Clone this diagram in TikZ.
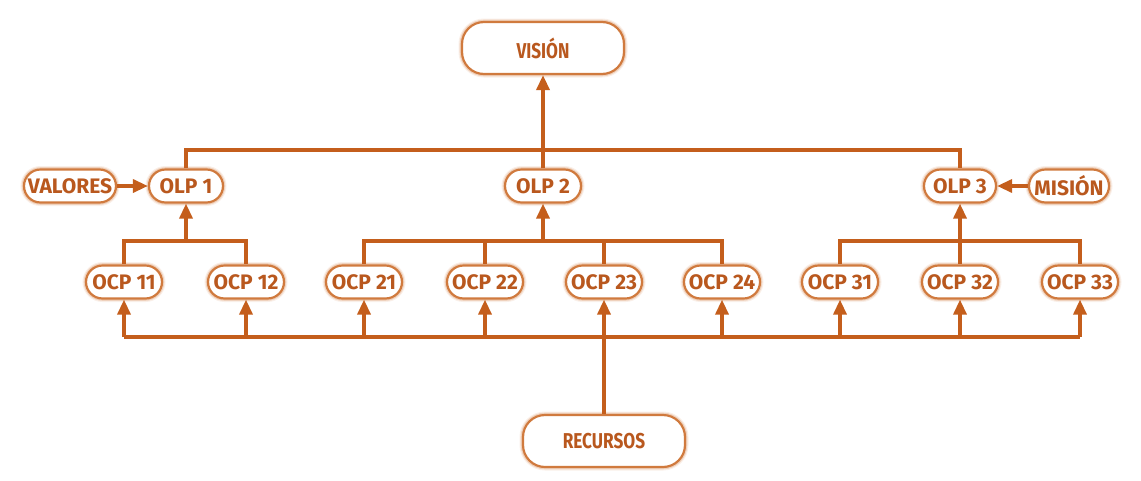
\documentclass[tikz,border=0pt]{standalone}
\usepackage{fontspec}
\setmainfont{Fira Sans}
\newfontfamily\narrowfont[FakeStretch=0.8]{Fira Sans}
\usetikzlibrary{arrows.meta,shapes.misc}

\definecolor{linec}{RGB}{196,94,28}
\definecolor{framec}{RGB}{208,122,62}
\definecolor{textc}{RGB}{185,88,30}

\tikzset{
  glow/.style={
    preaction={draw=framec,line width=7pt,opacity=0.12},
    preaction={draw=framec,line width=4.6pt,opacity=0.26},
    draw=framec,line width=2.2pt,fill=white,text=textc},
  pill/.style={glow,rounded rectangle,minimum height=33pt,inner xsep=5pt,inner ysep=0pt,
    font=\fontsize{21}{21}\selectfont\bfseries},
  bigbox/.style={glow,rectangle,rounded corners=22pt,minimum width=162pt,minimum height=52pt,
    font=\bfseries\narrowfont\fontsize{21.5}{21.5}\selectfont},
  wire/.style={draw=linec,line width=3.4pt},
  arr/.style={wire,-{Triangle[length=15pt,width=13pt]}}
}

\begin{document}
\begin{tikzpicture}[x=1pt,y=-1pt]
\useasboundingbox (0,0) rectangle (1141,480);

% top and bottom boxes
\node[bigbox] (vis) at (543,48) {VISIÓN};
\node[bigbox] (rec) at (604,441) {RECURSOS};

% strategic level
\node[pill,minimum width=84pt] (o1) at (186,186) {OLP 1};
\node[pill,minimum width=86pt] (o2) at (543,186) {OLP 2};
\node[pill,minimum width=82pt] (o3) at (960,186) {OLP 3};
\node[pill,minimum width=102pt] (val) at (70,186) {VALORES};
\node[pill,minimum width=90pt] (mis) at (1069,186) {MISIÓN};

% operational level
\foreach \n/\x in {11/124,12/246,21/364,22/485,23/604,24/722,31/840,32/960,33/1080}
  \node[pill,minimum width=86pt] (c\n) at (\x,282) {OCP \n};

% bus levels
\coordinate (b0) at (0,150);
\coordinate (b1) at (0,241);
\coordinate (b2) at (0,337);

% OLP -> VISION
\draw[wire] (o1.north) -- (o1.north|-b0) -- (o3.north|-b0) -- (o3.north);
\draw[arr] (o2.north) -- (vis.south);

% side inputs
\draw[arr] (val.east) -- (o1.west);
\draw[arr] (mis.west) -- (o3.east);

% OCP groups -> OLP
\draw[wire] (c11.north) -- (c11.north|-b1) -- (c12.north|-b1) -- (c12.north);
\draw[arr] (o1.south|-b1) -- (o1.south);
\draw[wire] (c21.north) -- (c21.north|-b1) -- (c24.north|-b1) -- (c24.north);
\draw[wire] (c22.north|-b1) -- (c22.north);
\draw[wire] (c23.north|-b1) -- (c23.north);
\draw[arr] (o2.south|-b1) -- (o2.south);
\draw[wire] (c31.north) -- (c31.north|-b1) -- (c33.north|-b1) -- (c33.north);
\draw[arr] (c32.north|-b1) -- (o3.south);
\draw[wire] (c32.north|-b1) -- (c32.north);

% RECURSOS -> every OCP
\draw[wire] (c11.south|-b2) -- (c33.south|-b2);
\draw[wire] (rec.north) -- (rec.north|-b2);
\foreach \n in {11,12,21,22,23,24,31,32,33}
  \draw[arr] (c\n.south|-b2) -- (c\n.south);
\end{tikzpicture}
\end{document}
